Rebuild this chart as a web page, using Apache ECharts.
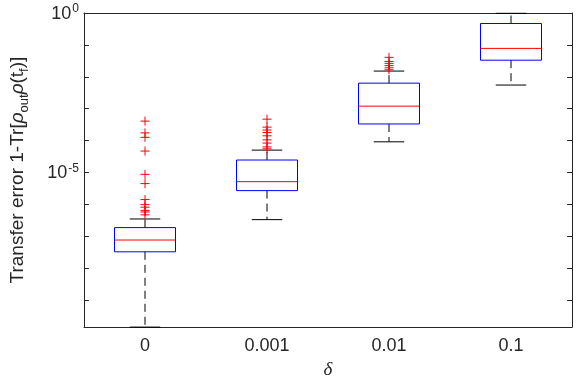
<!DOCTYPE html>
<html>
<head>
<meta charset="utf-8">
<script src="https://cdn.jsdelivr.net/npm/echarts@6/dist/echarts.min.js"></script>
<style>html,body{margin:0;padding:0;background:#fff;}#c{width:576px;height:384px;}</style>
</head>
<body>
<div id="c"></div>
<script>
var categories = ['0', '0.001', '0.01', '0.1'];
// [lower whisker, Q1, median, Q3, upper whisker]
var boxLower  = [1.41e-10, 3.31e-7, 9.12e-5, 5.50e-3];
var boxQ1     = [3.24e-8, 2.69e-6, 3.31e-4, 0.0331];
var boxMedian = [7.59e-8, 5.13e-6, 1.20e-3, 0.0776];
var boxQ3     = [1.86e-7, 2.45e-5, 6.31e-3, 0.468];
var boxUpper  = [3.47e-7, 5.01e-5, 1.51e-2, 0.977];
var outliers0    = [4.07e-4, 1.74e-4, 1.26e-4, 4.68e-5, 8.71e-6, 4.47e-6, 1.41e-6, 9.77e-7, 8.13e-7, 6.46e-7, 5.75e-7, 4.68e-7];
var outliers001  = [4.68e-4, 2.63e-4, 2.14e-4, 1.78e-4, 1.41e-4, 1.05e-4, 8.32e-5, 6.31e-5, 5.50e-5];
var outliers01   = [4.07e-2, 3.02e-2, 2.63e-2, 2.24e-2, 1.91e-2, 1.66e-2];
var outliers1    = [];
var yMin = 1.41e-10, yMax = 1;
var labeledExponents = [0, -5];

var outlierLists = [outliers0, outliers001, outliers01, outliers1];
var boxData = categories.map(function (c, i) {
  return [i, boxLower[i], boxQ1[i], boxMedian[i], boxQ3[i], boxUpper[i]];
});
var outlierData = [];
outlierLists.forEach(function (list, i) {
  list.forEach(function (v) { outlierData.push([i, v]); });
});

var axisColor = '#262626';
var fontFam = '"Liberation Sans", Arial, Helvetica, sans-serif';

function renderBox(params, api) {
  var i = api.value(0);
  var band = api.size([1, 0])[0];
  var c = api.coord([i, api.value(3)]);
  var x = c[0];
  var yLo = api.coord([i, api.value(1)])[1];
  var yQ1 = api.coord([i, api.value(2)])[1];
  var yMed = c[1];
  var yQ3 = api.coord([i, api.value(4)])[1];
  var yHi = api.coord([i, api.value(5)])[1];
  var hw = band * 0.25;
  var cw = band * 0.125;
  var dash = {stroke: '#000', lineWidth: 1, lineDash: [8, 5]};
  var solid = {stroke: '#000', lineWidth: 1};
  return {
    type: 'group',
    children: [
      {type: 'line', shape: {x1: x, y1: yQ3, x2: x, y2: yHi}, style: dash},
      {type: 'line', shape: {x1: x, y1: yQ1, x2: x, y2: yLo}, style: dash},
      {type: 'line', shape: {x1: x - cw, y1: yHi, x2: x + cw, y2: yHi}, style: solid},
      {type: 'line', shape: {x1: x - cw, y1: yLo, x2: x + cw, y2: yLo}, style: solid},
      {type: 'rect', shape: {x: x - hw, y: yQ3, width: 2 * hw, height: yQ1 - yQ3},
        style: {fill: 'none', stroke: '#0000ff', lineWidth: 1}},
      {type: 'line', shape: {x1: x - hw, y1: yMed, x2: x + hw, y2: yMed},
        style: {stroke: '#ff0000', lineWidth: 1}}
    ]
  };
}

var chart = echarts.init(document.getElementById('c'));
var yLabelFmt = function (v) {
  var e = Math.round(Math.log10(v));
  if (Math.abs(Math.log10(v) - e) > 1e-6) return '';
  if (labeledExponents.indexOf(e) < 0) return '';
  return '{b|10}{s|' + e + '}';
};
chart.setOption({
  animation: false,
  grid: {left: 73, right: 4, top: 13, bottom: 53, show: false},
  xAxis: [{
    type: 'category', data: categories, boundaryGap: true,
    axisLine: {lineStyle: {color: axisColor, width: 1}},
    axisTick: {inside: true, alignWithLabel: true, length: 5, lineStyle: {color: axisColor}},
    axisLabel: {color: axisColor, fontSize: 18, fontFamily: fontFam, margin: 10},
    name: 'δ', nameLocation: 'middle', nameGap: 32,
    nameTextStyle: {fontFamily: '"Liberation Serif", "DejaVu Serif", serif', fontStyle: 'italic', fontSize: 19, color: axisColor},
    splitLine: {show: false}
  }, {
    type: 'category', data: categories, boundaryGap: true, position: 'top',
    axisLine: {lineStyle: {color: axisColor, width: 1}},
    axisTick: {inside: true, alignWithLabel: true, length: 5, lineStyle: {color: axisColor}},
    axisLabel: {show: false}, splitLine: {show: false}
  }],
  yAxis: [{
    type: 'log', logBase: 10, min: yMin, max: yMax, splitNumber: 10,
    axisLine: {show: true, lineStyle: {color: axisColor, width: 1}},
    axisTick: {show: true, inside: true, length: 5, lineStyle: {color: axisColor}},
    splitLine: {show: false},
    axisLabel: {
      color: axisColor, fontFamily: fontFam, margin: 5, formatter: yLabelFmt,
      rich: {
        b: {fontSize: 18, fontFamily: fontFam, color: axisColor, verticalAlign: 'bottom'},
        s: {fontSize: 12, fontFamily: fontFam, color: axisColor, verticalAlign: 'top', padding: [0, 0, 8, 1]}
      }
    },
    name: '{n|Transfer error 1-Tr[}{g|ρ}{sub|out}{g|ρ}{n|(t}{sub|f}{n|)]}',
    nameLocation: 'middle', nameRotate: 90, nameGap: 53,
    nameTextStyle: {
      color: axisColor,
      rich: {
        n: {fontSize: 19, fontFamily: fontFam, color: axisColor, verticalAlign: 'bottom', padding: [0, 0, 4, 0]},
        g: {fontSize: 19, fontFamily: fontFam, fontStyle: 'italic', color: axisColor, verticalAlign: 'bottom', padding: [0, 0, 4, 0]},
        sub: {fontSize: 13, fontFamily: fontFam, color: axisColor, verticalAlign: 'bottom'}
      }
    }
  }, {
    type: 'log', logBase: 10, min: yMin, max: yMax, splitNumber: 10, position: 'right',
    axisLine: {show: true, lineStyle: {color: axisColor, width: 1}},
    axisTick: {show: true, inside: true, length: 5, lineStyle: {color: axisColor}},
    axisLabel: {show: false}, splitLine: {show: false}
  }],
  series: [{
    type: 'custom', xAxisIndex: 0, yAxisIndex: 0,
    renderItem: renderBox, data: boxData, clip: false,
    encode: {x: 0, y: [1, 2, 3, 4, 5]}
  }, {
    type: 'scatter', xAxisIndex: 0, yAxisIndex: 0,
    data: outlierData,
    symbol: 'path://M0,5L10,5M5,0L5,10', symbolSize: 9,
    itemStyle: {color: 'none', borderColor: '#ff0000', borderWidth: 1, opacity: 1}
  }]
});
</script>
</body>
</html>
